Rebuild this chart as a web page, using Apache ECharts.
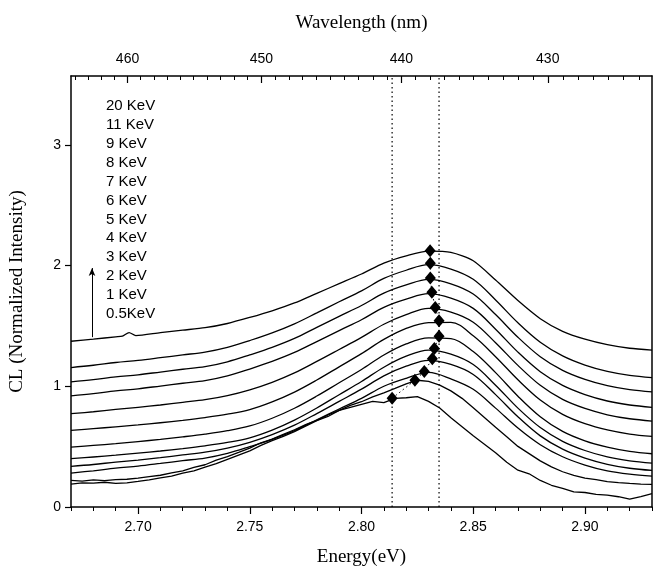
<!DOCTYPE html>
<html>
<head>
<meta charset="utf-8">
<script src="https://cdn.jsdelivr.net/npm/echarts@6/dist/echarts.min.js"></script>
<style>
  html, body { margin: 0; padding: 0; background: #fff; }
  #chart { width: 657px; height: 573px; }
</style>
</head>
<body>
<div id="chart"></div>
<script>
// energy grid (eV) shared by the smooth spectra
const energy = [2.67, 2.68, 2.69, 2.70, 2.71, 2.72, 2.73, 2.74, 2.75, 2.76, 2.77, 2.78, 2.79, 2.80,
  2.81, 2.82, 2.83, 2.84, 2.85, 2.86, 2.87, 2.88, 2.89, 2.90, 2.91, 2.92, 2.93]
// the 20 KeV trace has a small spike near 2.696 eV
const energy20 = [2.67, 2.68, 2.69, 2.693, 2.696, 2.699, 2.71, 2.72, 2.73, 2.74, 2.75, 2.76, 2.77, 2.78,
  2.79, 2.80, 2.81, 2.82, 2.83, 2.84, 2.85, 2.86, 2.87, 2.88, 2.89, 2.90, 2.91, 2.92, 2.93]
// finer grid for the two noisy low-voltage spectra
const energyFine = [2.670, 2.675, 2.680, 2.685, 2.690, 2.695, 2.700, 2.705, 2.710, 2.715, 2.720,
  2.725, 2.730, 2.735, 2.740, 2.745, 2.750, 2.755, 2.760, 2.765, 2.770, 2.775, 2.780, 2.785, 2.790,
  2.795, 2.800, 2.805, 2.810, 2.815, 2.820, 2.825, 2.830, 2.835, 2.840, 2.845, 2.850, 2.855, 2.860,
  2.865, 2.870, 2.875, 2.880, 2.885, 2.890, 2.895, 2.900, 2.905, 2.910, 2.915, 2.920, 2.925, 2.930]

const kev20 = [1.373, 1.39, 1.41, 1.415, 1.445, 1.42, 1.445, 1.465, 1.485, 1.52, 1.57, 1.625, 1.69, 1.77,
  1.85, 1.93, 2.02, 2.08, 2.12, 2.11, 2.04, 1.88, 1.71, 1.56, 1.455, 1.39, 1.345, 1.315, 1.30]
const kev11 = [1.155, 1.174, 1.197, 1.215, 1.237, 1.26, 1.283, 1.322, 1.379, 1.442, 1.517, 1.608, 1.70, 1.79,
  1.893, 1.961, 2.007, 1.971, 1.886, 1.715, 1.526, 1.365, 1.252, 1.176, 1.124, 1.091, 1.072]
const kev9 = [1.036, 1.055, 1.078, 1.095, 1.118, 1.141, 1.163, 1.203, 1.26, 1.322, 1.396, 1.488, 1.579, 1.669,
  1.771, 1.839, 1.885, 1.849, 1.764, 1.594, 1.406, 1.245, 1.132, 1.057, 1.005, 0.972, 0.953]
const kev8 = [0.92, 0.939, 0.962, 0.979, 1.002, 1.025, 1.047, 1.086, 1.143, 1.206, 1.28, 1.37, 1.461, 1.551,
  1.654, 1.721, 1.767, 1.73, 1.645, 1.473, 1.283, 1.121, 1.007, 0.931, 0.878, 0.845, 0.826]
const kev7 = [0.773, 0.789, 0.808, 0.826, 0.845, 0.867, 0.889, 0.923, 0.971, 1.033, 1.111, 1.206, 1.305, 1.405,
  1.514, 1.593, 1.645, 1.615, 1.531, 1.361, 1.173, 1.008, 0.891, 0.816, 0.764, 0.731, 0.712]
const kev6 = [0.635, 0.649, 0.664, 0.68, 0.698, 0.718, 0.741, 0.769, 0.807, 0.871, 0.952, 1.052, 1.161, 1.27,
  1.388, 1.479, 1.528, 1.53, 1.418, 1.245, 1.054, 0.886, 0.767, 0.69, 0.638, 0.604, 0.585]
const kev5 = [0.496, 0.51, 0.525, 0.542, 0.56, 0.581, 0.604, 0.632, 0.671, 0.735, 0.818, 0.919, 1.029, 1.139,
  1.259, 1.351, 1.401, 1.395, 1.288, 1.113, 0.918, 0.748, 0.626, 0.548, 0.495, 0.46, 0.441]
const kev4 = [0.40, 0.414, 0.429, 0.446, 0.464, 0.484, 0.507, 0.535, 0.573, 0.637, 0.72, 0.82, 0.93, 1.039,
  1.158, 1.249, 1.30, 1.266, 1.18, 1.009, 0.819, 0.658, 0.544, 0.468, 0.415, 0.382, 0.363]
const kev3 = [0.336, 0.352, 0.372, 0.389, 0.409, 0.431, 0.454, 0.488, 0.536, 0.60, 0.678, 0.774, 0.875, 0.976,
  1.086, 1.166, 1.215, 1.181, 1.098, 0.931, 0.747, 0.589, 0.479, 0.405, 0.354, 0.321, 0.303]
const kev2 = [0.281, 0.30, 0.322, 0.339, 0.361, 0.384, 0.405, 0.444, 0.50, 0.561, 0.633, 0.723, 0.812, 0.90,
  1.00, 1.066, 1.115, 1.061, 0.975, 0.819, 0.654, 0.516, 0.416, 0.347, 0.299, 0.272, 0.256]
const kev1 = [0.22, 0.215, 0.225, 0.218, 0.226, 0.23, 0.24, 0.252, 0.263, 0.282, 0.30, 0.328, 0.35, 0.388,
  0.418, 0.452, 0.488, 0.532, 0.562, 0.602, 0.64, 0.682, 0.718, 0.762, 0.80, 0.842, 0.872, 0.912, 0.945,
  0.982, 1.02, 1.05, 1.04, 1.01, 0.962, 0.90, 0.822, 0.742, 0.66, 0.582, 0.502, 0.442, 0.382, 0.332,
  0.292, 0.262, 0.24, 0.226, 0.21, 0.202, 0.195, 0.19, 0.187]
const kev05 = [0.19, 0.20, 0.198, 0.205, 0.195, 0.20, 0.212, 0.225, 0.242, 0.255, 0.28, 0.30, 0.33, 0.36,
  0.395, 0.43, 0.465, 0.51, 0.55, 0.585, 0.625, 0.67, 0.715, 0.75, 0.80, 0.825, 0.85, 0.875, 0.865,
  0.90, 0.905, 0.915, 0.875, 0.82, 0.74, 0.665, 0.59, 0.52, 0.45, 0.37, 0.305, 0.275, 0.22, 0.18,
  0.155, 0.125, 0.12, 0.105, 0.098, 0.085, 0.065, 0.085, 0.11]

// peak positions (diamonds), 0.5 KeV -> 20 KeV
const peakEnergy = [2.8137, 2.8239, 2.8281, 2.8317, 2.8326, 2.8347, 2.8347, 2.833, 2.8315, 2.8308, 2.8308, 2.8307]
const peakValue = [0.90, 1.05, 1.122, 1.227, 1.313, 1.415, 1.542, 1.653, 1.778, 1.896, 2.018, 2.123]

const guideEnergy = [2.8137, 2.8347]
const energyTicks = [2.70, 2.75, 2.80, 2.85, 2.90]
const wavelengthTicks = [460, 450, 440, 430]
const wavelengthMinor = []
for (let w = 424; w <= 464; w++) wavelengthMinor.push(w)

const HC = 1239.84
const toEnergy = (nm) => HC / nm

const spectra = [
  {name: '20 KeV', x: energy20, y: kev20, smooth: 0.25},
  {name: '11 KeV', x: energy, y: kev11, smooth: 0.35},
  {name: '9 KeV', x: energy, y: kev9, smooth: 0.35},
  {name: '8 KeV', x: energy, y: kev8, smooth: 0.35},
  {name: '7 KeV', x: energy, y: kev7, smooth: 0.35},
  {name: '6 KeV', x: energy, y: kev6, smooth: 0.35},
  {name: '5 KeV', x: energy, y: kev5, smooth: 0.35},
  {name: '4 KeV', x: energy, y: kev4, smooth: 0.35},
  {name: '3 KeV', x: energy, y: kev3, smooth: 0.35},
  {name: '2 KeV', x: energy, y: kev2, smooth: 0.35},
  {name: '1 KeV', x: energyFine, y: kev1, smooth: false},
  {name: '0.5KeV', x: energyFine, y: kev05, smooth: false}
]

const sans = 'Liberation Sans, Arial, sans-serif'
const serif = 'Liberation Serif, Times New Roman, serif'
const xMin = 2.67, xMax = 2.93, yMin = 0, yMax = 3.57

let chart = echarts.init(document.getElementById('chart'))

let series = spectra.map(s => ({
  name: s.name,
  type: 'line',
  data: s.x.map((e, i) => [e, s.y[i]]),
  showSymbol: false,
  smooth: s.smooth,
  lineStyle: {color: '#000', width: 1.3},
  itemStyle: {color: '#000'},
  silent: true
}))

series.push({
  name: 'peaks',
  type: 'line',
  data: peakEnergy.map((e, i) => [e, peakValue[i]]),
  symbol: 'diamond',
  symbolSize: [11, 13],
  showSymbol: true,
  itemStyle: {color: '#000'},
  lineStyle: {color: '#000', width: 1, type: [1.5, 3]},
  z: 5,
  silent: true
})

// dotted vertical guides through the 0.5 KeV and 5/6 KeV peaks
guideEnergy.forEach((e, i) => {
  series.push({
    name: 'guide' + i,
    type: 'line',
    data: [[e, yMin], [e, yMax]],
    showSymbol: false,
    lineStyle: {color: '#000', width: 1.2, type: [1.5, 3]},
    silent: true
  })
})

series.push({
  name: 'arrow',
  type: 'line',
  data: [],
  markLine: {
    silent: true,
    symbol: ['none', 'arrow'],
    symbolSize: [5, 8],
    label: {show: false},
    lineStyle: {color: '#000', width: 1, type: 'solid'},
    data: [[{coord: [2.6794, 1.407]}, {coord: [2.6794, 1.979]}]]
  }
})

let option = {
  animation: false,
  backgroundColor: '#fff',
  grid: {left: 71, right: 5, top: 76, bottom: 66, outerBoundsMode: 'none'},
  legend: {
    data: spectra.map(s => s.name),
    orient: 'vertical',
    left: 96,
    top: 93,
    icon: 'none',
    itemWidth: 0,
    itemHeight: 16,
    itemGap: 3.4,
    selectedMode: false,
    textStyle: {fontFamily: sans, fontSize: 15, color: '#000'}
  },
  xAxis: [
    { // bottom: major ticks + labels
      type: 'value', position: 'bottom', min: xMin, max: xMax,
      name: 'Energy(eV)', nameLocation: 'middle', nameGap: 41,
      nameTextStyle: {fontFamily: serif, fontSize: 19, color: '#000'},
      axisLine: {lineStyle: {color: '#000', width: 1.5}},
      axisTick: {customValues: energyTicks, length: 7, lineStyle: {color: '#000', width: 1.2}},
      axisLabel: {customValues: energyTicks, formatter: v => v.toFixed(2), margin: 13,
        fontFamily: sans, fontSize: 14, color: '#000'},
      splitLine: {show: false}
    },
    { // bottom: minor ticks
      type: 'value', position: 'bottom', min: xMin, max: xMax, interval: 0.01,
      axisLine: {show: false},
      axisTick: {length: 4, lineStyle: {color: '#000', width: 1}},
      axisLabel: {show: false},
      splitLine: {show: false}
    },
    { // top: wavelength major ticks + labels
      type: 'value', position: 'top', min: xMin, max: xMax,
      name: 'Wavelength (nm)', nameLocation: 'middle', nameGap: 43,
      nameTextStyle: {fontFamily: serif, fontSize: 19, color: '#000'},
      axisLine: {lineStyle: {color: '#000', width: 1.5}},
      axisTick: {inside: true, customValues: wavelengthTicks.map(toEnergy), length: 7,
        lineStyle: {color: '#000', width: 1.2}},
      axisLabel: {customValues: wavelengthTicks.map(toEnergy), formatter: v => String(Math.round(HC / v)),
        margin: 10, fontFamily: sans, fontSize: 14, color: '#000'},
      splitLine: {show: false}
    },
    { // top: wavelength minor ticks (1 nm)
      type: 'value', position: 'top', min: xMin, max: xMax,
      axisLine: {show: false},
      axisTick: {inside: true, customValues: wavelengthMinor.map(toEnergy), length: 4,
        lineStyle: {color: '#000', width: 1}},
      axisLabel: {show: false},
      splitLine: {show: false}
    }
  ],
  yAxis: [
    {
      type: 'value', position: 'left', min: yMin, max: yMax, interval: 1,
      name: 'CL (Normalized Intensity)', nameLocation: 'middle', nameGap: 44,
      nameTextStyle: {fontFamily: serif, fontSize: 19, color: '#000'},
      axisLine: {show: true, lineStyle: {color: '#000', width: 1.5}},
      axisTick: {show: true, length: 6, lineStyle: {color: '#000', width: 1.2}},
      axisLabel: {margin: 10, showMaxLabel: false, fontFamily: sans, fontSize: 14, color: '#000'},
      splitLine: {show: false}
    },
    {
      type: 'value', position: 'right', min: yMin, max: yMax, interval: 1,
      axisLine: {show: true, lineStyle: {color: '#000', width: 1.5}},
      axisTick: {show: false},
      axisLabel: {show: false},
      splitLine: {show: false}
    }
  ],
  series: series
}

chart.setOption(option)
</script>
</body>
</html>
